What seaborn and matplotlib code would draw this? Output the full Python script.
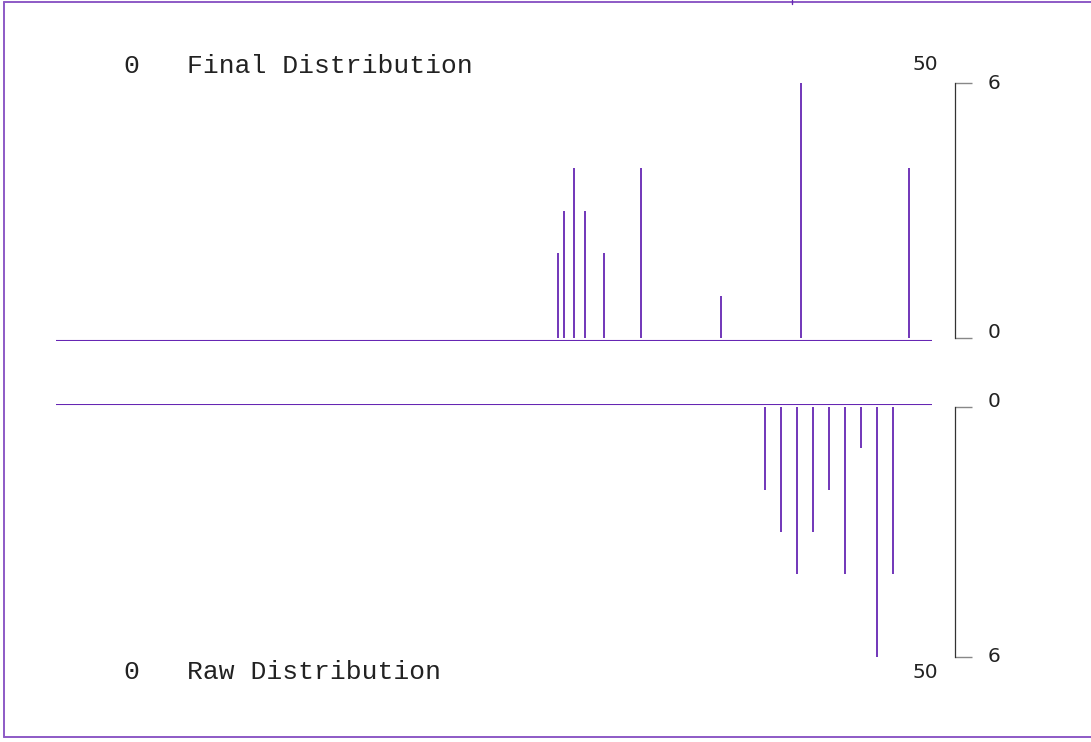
import numpy as np
import pandas as pd
import seaborn as sns
import matplotlib.pyplot as plt
from matplotlib.lines import Line2D

sns.set_theme(style="white")
plt.rcParams['font.family'] = ['DejaVu Sans']
plt.rcParams['font.sans-serif'] = ['DejaVu Sans']

# ---- data ----
final_x = [27.08, 27.48, 28.08, 28.77, 29.98, 32.27, 37.29, 42.29, 49.0]
final_count = [2, 3, 4, 3, 2, 4, 1, 6, 4]
raw_x = [40, 41, 42, 43, 44, 45, 46, 47, 48]
raw_count = [2, 3, 4, 3, 2, 4, 1, 6, 4]
x_labels = ["0", "50"]
y_ticks = [0, 6]
titles = ["Final Distribution", "Raw Distribution"]

final_df = pd.DataFrame({"x": final_x, "n": final_count})
raw_df = pd.DataFrame({"x": raw_x, "n": raw_count})

W, H = 1091, 742
PURPLE = "#6626b3"
BORDER = "#8d5ac6"
SANS = ['DejaVu Sans']
MONO = ['Liberation Mono', 'DejaVu Sans Mono']

fig = plt.figure(figsize=(W / 100, H / 100), dpi=100)


def px_axes(x0, x1, ytop, ybot):
    return fig.add_axes([x0 / W, 1 - ybot / H, (x1 - x0) / W, (ybot - ytop) / H])


XLIM = (-4.29, 50.46)

ax_top = px_axes(56, 932, 83, 341)
ax_bot = px_axes(56, 932, 404, 657)


def style(ax, df, ylim, base):
    ax.set_facecolor("none")
    ax.vlines(df["x"], 0, df["n"], color=PURPLE, lw=1.3)
    ax.axhline(base, color=PURPLE, lw=1.5)
    ax.set_xlim(*XLIM)
    ax.set_ylim(*ylim)
    for s in ["top", "left", "bottom"]:
        ax.spines[s].set_visible(False)
    ax.spines["right"].set_visible(True)
    ax.spines["right"].set_position(("outward", 16.6))
    ax.spines["right"].set_bounds(0, 6)
    ax.spines["right"].set_color("#333333")
    ax.spines["right"].set_linewidth(0.9)
    ax.set_xticks([])
    ax.yaxis.tick_right()
    ax.set_yticks(y_ticks)
    ax.set_yticklabels([str(v) for v in y_ticks])
    ax.tick_params(axis="y", which="major", direction="out", length=12.2,
                   width=1.0, color="#888888", pad=11, labelsize=14.5,
                   labelcolor="#222222", right=True, left=False)
    for lbl in ax.get_yticklabels():
        lbl.set_family(SANS)
        if lbl.get_text() == "0":
            lbl.set_va("baseline")
        else:
            lbl.set_va("center")


style(ax_top, final_df, (-0.07, 6), -0.07)
style(ax_bot, raw_df, (6, -0.065), -0.065)


def ftext(x, y, s, **kw):
    fig.text(x / W, 1 - y / H, s, **kw)


for (ytxt, y50, title) in [(66, 64, titles[0]), (672, 672, titles[1])]:
    ftext(131, ytxt, x_labels[0], ha="center", va="center", family=MONO,
          fontsize=19, color="#222222")
    ftext(187, ytxt, title, ha="left", va="center", family=MONO,
          fontsize=19, color="#222222")
    ftext(925, y50, x_labels[1], ha="center", va="center", fontsize=14.5,
          family=SANS, color="#222222")

# figure border (open on right)
for xs, ys in [([4, 4], [1.5, 737]), ([4, W], [1.5, 1.5]), ([4, W], [737, 737])]:
    fig.add_artist(Line2D([x / W for x in xs], [1 - y / H for y in ys],
                          color=BORDER, lw=1.4, transform=fig.transFigure))
fig.add_artist(Line2D([792 / W, 792 / W], [1, 1 - 4 / H], color=PURPLE, lw=1.0,
                      transform=fig.transFigure))

fig.savefig("out.png", dpi=100)
